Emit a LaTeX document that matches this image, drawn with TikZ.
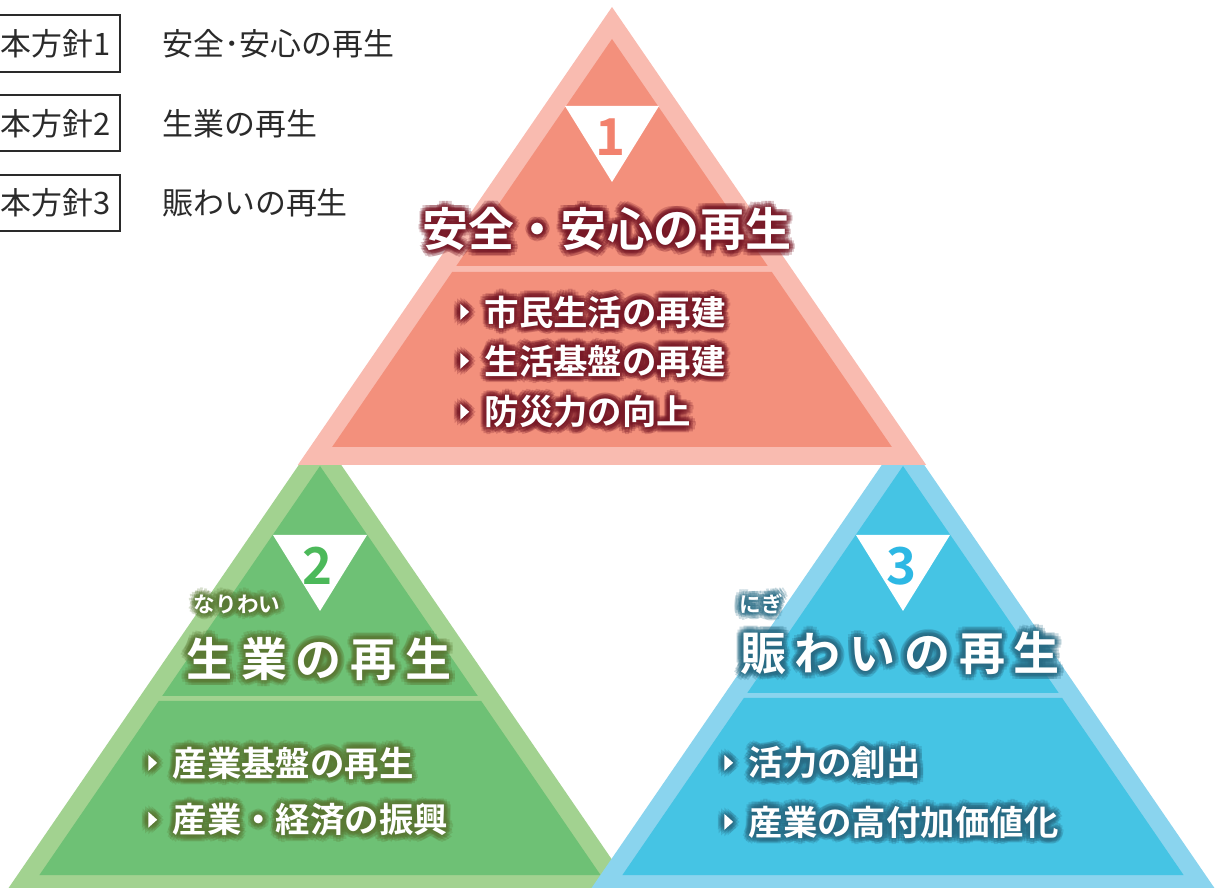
\documentclass[tikz,border=0pt]{standalone}
\usepackage{fontspec}
\usetikzlibrary{calc}
\newfontfamily\jp{Noto Sans CJK JP}
\newfontfamily\jpbold{Noto Sans CJK JP Bold}
\newfontfamily\jpwide{Noto Sans CJK JP Bold}[LetterSpace=19]

\definecolor{pinkout}{HTML}{F9BBB0}
\definecolor{pinkin}{HTML}{F3907C}
\definecolor{pinkglow}{HTML}{771826}
\definecolor{pinknum}{HTML}{F2826E}
\definecolor{greenout}{HTML}{A2D290}
\definecolor{greenin}{HTML}{6EC175}
\definecolor{greenglow}{HTML}{5A7934}
\definecolor{greennum}{HTML}{4CB95A}
\definecolor{blueout}{HTML}{8AD4EE}
\definecolor{bluein}{HTML}{45C4E4}
\definecolor{blueglow}{HTML}{286B84}
\definecolor{bluenum}{HTML}{2DB8E4}
\definecolor{ink}{HTML}{2A2A2A}

\def\slope{0.686}
% slice of a triangle with apex (x,y), between two heights
\def\band[#1](#2,#3)(#4:#5){\fill[#1] ({#2-\slope*(#4-#3)},#4) -- ({#2+\slope*(#4-#3)},#4) -- ({#2+\slope*(#5-#3)},#5) -- ({#2-\slope*(#5-#3)},#5) -- cycle;}
% white text with a dark halo
\def\glow[#1]#2(#3)(#4)#5{%
  \foreach \a in {0,45,...,315}{
    \node[glowcopy, #1, text=#2] (#3-a\a) at ($(#4)+(\a:2)$) {#5};
  }
  \foreach \a in {0,30,...,330}{
    \node[glowcopy, #1, text=#2] (#3-b\a) at ($(#4)+(\a+15:4.2)$) {#5};
    \node[glowcopy, #1, text=#2] (#3-c\a) at ($(#4)+(\a:6.5)$) {#5};
  }
  \node[#1, text=white] (#3) at (#4) {#5};}
\def\mk{\tikz[baseline=0pt]\fill (0,3pt) -- (5pt,7.5pt) -- (0,12pt) -- cycle;\hspace{0.45em}}

\tikzset{
  glowcopy/.style={opacity=0.24},
  title/.style={inner sep=0pt, font=\jpbold\fontsize{26.2pt}{30pt}\selectfont},
  widetitle/.style={inner sep=0pt, font=\jpwide\fontsize{26.2pt}{30pt}\selectfont},
  ruby/.style={inner sep=0pt, font=\jpbold\fontsize{12.3pt}{14pt}\selectfont},
  item/.style={inner sep=0pt, anchor=west, font=\jpbold\fontsize{19.6pt}{22pt}\selectfont},
  num/.style={inner sep=0pt, font=\jpbold\fontsize{29pt}{32pt}\selectfont},
  legend/.style={inner sep=0pt, anchor=west, text=ink, font=\jp\fontsize{17.6pt}{20pt}\selectfont},
  legbox/.style={draw=ink, line width=1.1pt}
}

\begin{document}
\begin{tikzpicture}[x=0.02cm, y=-0.02cm]
			%%%%% START %%%%%
			\path[use as bounding box] (0,0) rectangle (1215,888);
			\clip (0,0) rectangle (1215,888);
			
			% green pyramid
			\band[greenout](320,434)(434:893)
			\band[greenin](320,466)(466:696)
			\band[greenin](320,466)(701:875)
			
			% blue pyramid
			\band[blueout](903,434)(434:893)
			\band[bluein](903,466)(466:693)
			\band[bluein](903,466)(698:875)
			
			% pink pyramid
			\band[pinkout](612,7)(7:465)
			\band[pinkin](612,39)(39:266)
			\band[pinkin](612,39)(272:447)
			
			% white markers with numbers
			\fill[white] (565,106) -- (659,106) -- (612,182) -- cycle;
			\fill[white] (273,535) -- (367,535) -- (320,611) -- cycle;
			\fill[white] (856,535) -- (950,535) -- (903,611) -- cycle;
			\node[num, text=pinknum] (n1) at (611,137) {1};
			\node[num, text=greennum] (n2) at (318,566) {2};
			\node[num, text=bluenum] (n3) at (902,566) {3};
			
			% titles
			\glow[title]{pinkglow}(t1)(607,229){安全・安心の再生}
			\glow[ruby]{greenglow}(r2)(237,604){なりわい}
			\glow[widetitle]{greenglow}(t2)(319,659){生業の再生}
			\glow[ruby]{blueglow}(r3)(761,604){にぎ}
			\glow[widetitle]{blueglow}(t3)(900,653){賑わいの再生}
			
			% items
			\glow[item]{pinkglow}(p1)(460,312){\mk 市民生活の再建}
			\glow[item]{pinkglow}(p2)(460,361){\mk 生活基盤の再建}
			\glow[item]{pinkglow}(p3)(460,412){\mk 防災力の向上}
			\glow[item]{greenglow}(g1)(148,763){\mk 産業基盤の再生}
			\glow[item]{greenglow}(g2)(148,820){\mk 産業・経済の振興}
			\glow[item]{blueglow}(b1)(724,763){\mk 活力の創出}
			\glow[item]{blueglow}(b2)(724,822){\mk 産業の高付加価値化}
			
			% legend
			\draw[legbox] (-10,15) rectangle (120,72);
			\draw[legbox] (-10,95) rectangle (120,151);
			\draw[legbox] (-10,175) rectangle (120,231);
			\node[legend] (k1) at (0,44) {本方針1};
			\node[legend] (k2) at (0,124) {本方針2};
			\node[legend] (k3) at (0,203) {本方針3};
			\node[legend] (l1) at (162,44) {安全･安心の再生};
			\node[legend] (l2) at (162,124) {生業の再生};
			\node[legend] (l3) at (162,203) {賑わいの再生};
			
			%%%%% END %%%%%
		\end{tikzpicture}
\end{document}
